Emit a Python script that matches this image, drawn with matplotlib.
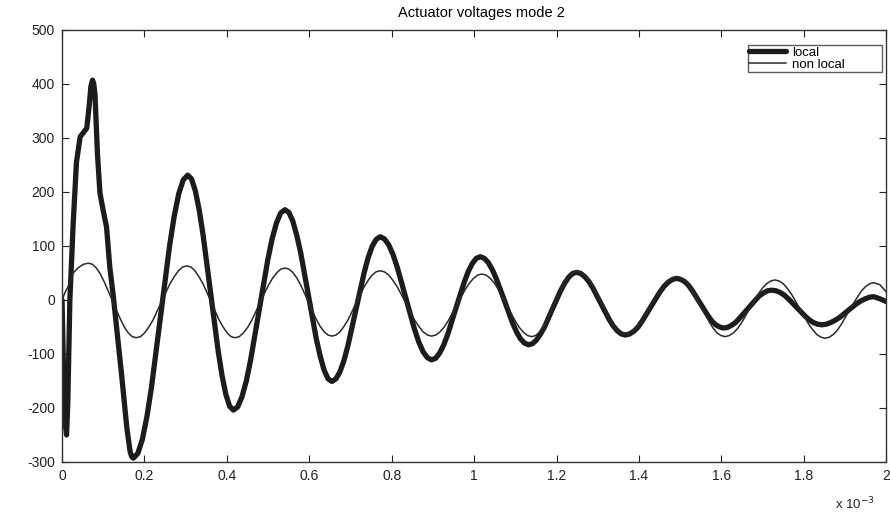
import numpy as np
from matplotlib import pyplot as plt

plt.rc('font', family='Liberation Sans')
plt.rcParams['axes.unicode_minus'] = False

# time in units of 1e-3 s
t_local = [0.000, 0.004, 0.008, 0.011, 0.014, 0.019, 0.027, 0.035, 0.044, 0.052, 0.060, 0.066,
           0.070, 0.074, 0.077, 0.080, 0.086, 0.092, 0.100, 0.108, 0.116, 0.124, 0.135, 0.145,
           0.157, 0.165, 0.169, 0.173,
           0.184, 0.195, 0.206, 0.217, 0.239, 0.261, 0.272, 0.283, 0.294, 0.305,
           0.3143, 0.3235, 0.3328, 0.342, 0.3605, 0.379, 0.3883, 0.3975, 0.4068, 0.416,
           0.4264, 0.4368, 0.4473, 0.4577, 0.4785, 0.4993, 0.5098, 0.5202, 0.5306, 0.541,
           0.5505, 0.560, 0.5695, 0.579, 0.598, 0.617, 0.6265, 0.636, 0.6455, 0.655,
           0.6648, 0.6745, 0.6843, 0.694, 0.7135, 0.733, 0.7428, 0.7525, 0.7623, 0.772,
           0.7824, 0.7928, 0.8033, 0.8137, 0.8345, 0.8553, 0.8658, 0.8762, 0.8866, 0.897,
           0.9068, 0.9167, 0.9265, 0.9363, 0.956, 0.9757, 0.9855, 0.9953, 1.0052, 1.015,
           1.0248, 1.0345, 1.0443, 1.054, 1.0735, 1.093, 1.1028, 1.1125, 1.1223, 1.132,
           1.1418, 1.1515, 1.1613, 1.171, 1.1905, 1.210, 1.2198, 1.2295, 1.2393, 1.249,
           1.2588, 1.2687, 1.2785, 1.2883, 1.308, 1.3277, 1.3375, 1.3473, 1.3572, 1.367,
           1.3774, 1.3878, 1.3983, 1.4087, 1.4295, 1.4503, 1.4608, 1.4712, 1.4816, 1.492,
           1.5014, 1.5108, 1.5203, 1.5297, 1.5485, 1.5673, 1.5768, 1.5862, 1.5956, 1.605,
           1.6148, 1.6245, 1.6343, 1.644, 1.6635, 1.683, 1.6928, 1.7025, 1.7123, 1.722,
           1.7322, 1.7423, 1.7525, 1.7627, 1.783, 1.8033, 1.8135, 1.8237, 1.8338, 1.844,
           1.8545, 1.865, 1.8755, 1.886, 1.907, 1.928, 1.9385, 1.949, 1.9595, 1.970,
           1.985, 2.000]
v_local = [0, -150, -230, -250, -190, 0, 140, 255, 302, 310, 318, 360,
           395, 407, 400, 380, 270, 198, 165, 135, 60, 10, -70, -142,
           -235, -280, -290, -293,
           -284, -258, -216, -162, -31, 100, 154, 196, 222, 231,
           224, 202, 167, 122, 13, -95, -140, -175, -197, -204,
           -198, -179, -150, -111, -18, 74, 113, 142, 161, 167,
           162, 146, 120, 88, 8, -72, -104, -130, -146, -151,
           -146, -133, -112, -84, -17, 50, 78, 99, 112, 117,
           113, 102, 84, 60, 3, -54, -78, -96, -107, -111,
           -108, -98, -83, -63, -15, 32, 52, 67, 77, 80,
           77, 69, 56, 39, -1, -42, -59, -72, -80, -83,
           -81, -74, -63, -50, -16, 17, 31, 42, 49, 51,
           49, 43, 34, 22, -7, -36, -48, -57, -63, -65,
           -63, -58, -50, -38, -12, 14, 25, 33, 38, 40,
           38, 34, 27, 17, -6, -29, -39, -46, -50, -52,
           -51, -47, -42, -34, -17, 0, 8, 13, 17, 18,
           17, 14, 9, 2, -14, -30, -37, -42, -45, -46,
           -45, -42, -38, -33, -20, -7, -2, 2, 5, 6,
           2, -3]

t_nonlocal = [0.000, 0.008, 0.015, 0.027, 0.040, 0.052, 0.064,
              0.0737, 0.0833, 0.093, 0.1027, 0.122, 0.1413, 0.151, 0.1607, 0.1703, 0.180,
              0.1903, 0.2005, 0.2108, 0.221, 0.2415, 0.262, 0.2723, 0.2825, 0.2928, 0.303,
              0.3128, 0.3225, 0.3323, 0.342, 0.3615, 0.381, 0.3908, 0.4005, 0.4103, 0.420,
              0.4301, 0.4402, 0.4503, 0.4603, 0.4805, 0.5007, 0.5108, 0.5208, 0.5309, 0.541,
              0.5505, 0.560, 0.5695, 0.579, 0.598, 0.617, 0.6265, 0.636, 0.6455, 0.655,
              0.6648, 0.6745, 0.6843, 0.694, 0.7135, 0.733, 0.7428, 0.7525, 0.7623, 0.772,
              0.7824, 0.7928, 0.8033, 0.8137, 0.8345, 0.8553, 0.8658, 0.8762, 0.8866, 0.897,
              0.9072, 0.9173, 0.9275, 0.9377, 0.958, 0.9783, 0.9885, 0.9987, 1.0088, 1.019,
              1.0291, 1.0392, 1.0493, 1.0593, 1.0795, 1.0997, 1.1098, 1.1198, 1.1299, 1.140,
              1.1492, 1.1583, 1.1675, 1.1767, 1.195, 1.2133, 1.2225, 1.2317, 1.2408, 1.250,
              1.2598, 1.2695, 1.2793, 1.289, 1.3085, 1.328, 1.3378, 1.3475, 1.3573, 1.367,
              1.3774, 1.3878, 1.3983, 1.4087, 1.4295, 1.4503, 1.4608, 1.4712, 1.4816, 1.492,
              1.5018, 1.5115, 1.5213, 1.531, 1.5505, 1.570, 1.5798, 1.5895, 1.5993, 1.609,
              1.6191, 1.6292, 1.6393, 1.6493, 1.6695, 1.6897, 1.6998, 1.7098, 1.7199, 1.730,
              1.7402, 1.7503, 1.7605, 1.7707, 1.791, 1.8113, 1.8215, 1.8317, 1.8418, 1.852,
              1.8618, 1.8717, 1.8815, 1.8913, 1.911, 1.9307, 1.9405, 1.9503, 1.9602, 1.970,
              1.985, 2.000]
v_nonlocal = [0, 15, 25, 50, 60, 66, 68,
              66, 59, 48, 33, -1, -35, -50, -61, -68, -70,
              -68, -61, -50, -37, -3, 30, 43, 54, 61, 63,
              61, 54, 43, 30, -3, -37, -50, -61, -68, -70,
              -68, -61, -51, -38, -5, 27, 40, 50, 57, 59,
              57, 51, 41, 28, -4, -36, -49, -59, -65, -67,
              -65, -59, -49, -37, -6, 24, 36, 46, 52, 54,
              52, 46, 36, 24, -6, -37, -49, -59, -65, -67,
              -65, -59, -50, -38, -9, 19, 31, 40, 46, 48,
              46, 40, 31, 19, -10, -39, -51, -60, -66, -68,
              -66, -60, -50, -38, -7, 23, 35, 45, 51, 53,
              51, 45, 36, 24, -5, -35, -47, -56, -62, -64,
              -62, -57, -48, -37, -10, 16, 27, 36, 41, 43,
              41, 36, 27, 15, -12, -40, -52, -61, -66, -68,
              -66, -61, -53, -42, -15, 11, 22, 30, 35, 37,
              35, 30, 21, 10, -17, -44, -55, -64, -69, -71,
              -69, -64, -56, -45, -19, 6, 17, 25, 30, 32,
              28, 15]

x_ticks = [0, 0.2, 0.4, 0.6, 0.8, 1, 1.2, 1.4, 1.6, 1.8, 2]
x_labels = ['0', '0.2', '0.4', '0.6', '0.8', '1', '1.2', '1.4', '1.6', '1.8', '2']
y_ticks = [-300, -200, -100, 0, 100, 200, 300, 400, 500]


def draw_voltages():
    fig = plt.figure(figsize=(8.9, 5.15), dpi=100)
    ax = fig.add_axes([0.0697, 0.103, 0.926, 0.839])
    ax.plot(t_local, v_local, color='#1c1c1c', lw=3.8, label='local',
            solid_joinstyle='round', solid_capstyle='round')
    ax.plot(t_nonlocal, v_nonlocal, color='#2a2a2a', lw=1.1, label='non local')

    ax.set_xlim(0, 2)
    ax.set_ylim(-300, 500)
    ax.set_xticks(x_ticks)
    ax.set_xticklabels(x_labels)
    ax.set_yticks(y_ticks)
    ax.tick_params(direction='in', top=True, right=True, length=5, width=0.8,
                   labelsize=10, colors='#222222', pad=5)
    for s in ax.spines.values():
        s.set_color('#333333')
        s.set_linewidth(1.0)

    ax.set_title('Actuator voltages mode 2', fontsize=10.5, pad=9, x=0.509)
    fig.text(0.938, 0.022, 'x 10$^{-3}$', fontsize=9.5, color='#222222', va='center')
    ax.legend(loc='upper left', bbox_to_anchor=(0.8325, 0.907, 0.1626, 0.058), mode='expand',
              fontsize=9.5, frameon=True, fancybox=False, edgecolor='#333333',
              handlelength=2.8, borderpad=0.1, labelspacing=0.0, borderaxespad=0.0,
              handletextpad=0.4)
    fig.savefig('out.png', dpi=100)


draw_voltages()
